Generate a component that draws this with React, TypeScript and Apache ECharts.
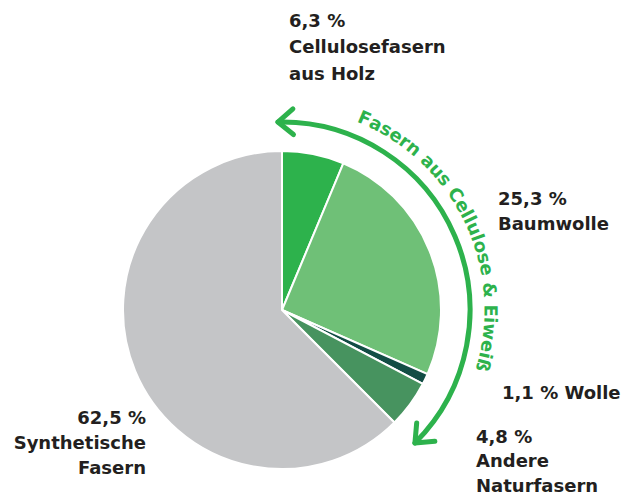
import React, { useEffect, useRef } from "react";
import * as echarts from "echarts";

const names = ["Cellulosefasern\naus Holz", "Baumwolle", "Wolle", "Andere\nNaturfasern", "Synthetische\nFasern"];
const values = [6.3, 25.3, 1.1, 4.8, 62.5];
const colors = ["#2db24c", "#6fc077", "#134d45", "#47935f", "#c4c5c7"];
const arcText = "Fasern aus Cellulose & Eiweiß";

// label layout per slice: anchor x, first-line middle y, line step, alignment
const labelPos: { x: number; y: number; step: number; align: string; inline?: boolean }[] = [
  { x: 289, y: 20, step: 26.5, align: "left" },
  { x: 498, y: 198, step: 25.5, align: "left" },
  { x: 502, y: 392, step: 25, align: "left", inline: true },
  { x: 476, y: 436, step: 24.5, align: "left" },
  { x: 146, y: 417, step: 25, align: "right" },
];

const CX = 282, CY = 310, R = 159;
const ARC_R = 188;
const GREEN = "#2db24c";
const TEXT = "#231f20";
const FONT_FAMILY = "'DejaVu Sans', sans-serif";

function fmt(v: number) {
  return v.toFixed(1).replace(".", ",") + " %";
}

export default function App() {
  const ref = useRef<HTMLDivElement>(null);
  useEffect(() => {
    document.body.style.margin = "0";
    const chart = echarts.init(ref.current!, null, { renderer: "svg" });

    const graphics: any[] = [];

    // labels
    values.forEach((v, i) => {
      const p = labelPos[i];
      const lines = p.inline ? [fmt(v) + " " + names[i]] : [fmt(v), ...names[i].split("\n")];
      lines.forEach((ln, k) => {
        graphics.push({
          type: "text",
          x: p.x,
          y: p.y + k * p.step,
          style: {
            text: ln,
            fontFamily: FONT_FAMILY,
            fontWeight: "bold",
            fontSize: 18,
            lineHeight: 18,
            fill: TEXT,
            align: p.align,
            textAlign: p.align,
            verticalAlign: "middle",
            textVerticalAlign: "middle",
          },
        });
      });
    });

    // arc with arrows
    const a0 = -Math.PI / 2 - 0.022;
    const a1 = Math.PI / 4;
    graphics.push({
      type: "arc",
      shape: { cx: CX, cy: CY, r: ARC_R, startAngle: a0, endAngle: a1, clockwise: true },
      style: { stroke: GREEN, lineWidth: 5, fill: "none", lineCap: "round" },
    });
    const head = (phi: number, sign: number) => {
      const tx = CX + ARC_R * Math.cos(phi);
      const ty = CY + ARC_R * Math.sin(phi);
      const dx = -Math.sin(phi) * sign;
      const dy = Math.cos(phi) * sign;
      const L = 20;
      const al = (40 * Math.PI) / 180;
      const rot = (x: number, y: number, a: number) => [x * Math.cos(a) - y * Math.sin(a), x * Math.sin(a) + y * Math.cos(a)];
      const r1 = rot(dx, dy, al);
      const r2 = rot(dx, dy, -al);
      return {
        type: "polyline",
        shape: { points: [[tx - L * r1[0], ty - L * r1[1]], [tx, ty], [tx - L * r2[0], ty - L * r2[1]]] },
        style: { stroke: GREEN, lineWidth: 5, fill: "none", lineCap: "round", lineJoin: "round" },
      };
    };
    graphics.push(head(a0, -1));
    graphics.push(head(a1, 1));

    // curved text
    const canvas = document.createElement("canvas");
    const ctx = canvas.getContext("2d")!;
    ctx.font = "bold 18px " + FONT_FAMILY;
    const chars = Array.from(arcText);
    const widths = chars.map((c) => ctx.measureText(c).width);
    const TR = 209;
    const startDeg = 23.3, endDeg = 105.3;
    const targetLen = ((endDeg - startDeg) * Math.PI / 180) * TR;
    const centers: number[] = [];
    let acc = 0;
    for (let i = 0; i < chars.length; i++) {
      centers.push(acc + widths[i] / 2);
      acc += widths[i];
    }
    const natural = centers[centers.length - 1] - centers[0];
    const ls = (targetLen - natural) / (chars.length - 1);
    chars.forEach((c, i) => {
      const s = centers[i] - centers[0] + i * ls;
      const th = (startDeg * Math.PI) / 180 + s / TR;
      graphics.push({
        type: "text",
        x: CX + TR * Math.sin(th),
        y: CY - TR * Math.cos(th),
        rotation: -th,
        style: {
          text: c,
          fontFamily: FONT_FAMILY,
          fontWeight: "bold",
          fontSize: 18,
          fill: GREEN,
          align: "center",
          textAlign: "center",
          verticalAlign: "middle",
          textVerticalAlign: "middle",
        },
      });
    });

    chart.setOption({
      animation: false,
      series: [
        {
          type: "pie",
          center: [CX, CY],
          radius: [0, R],
          startAngle: 90,
          clockwise: true,
          label: { show: false },
          labelLine: { show: false },
          emphasis: { disabled: true },
          itemStyle: { borderColor: "#ffffff", borderWidth: 2 },
          data: values.map((v, i) => ({ value: v, name: names[i], itemStyle: { color: colors[i] } })),
        },
      ],
      graphic: graphics,
    });
    return () => chart.dispose();
  }, []);
  return <div ref={ref} style={{ width: 621, height: 495 }} />;
}
